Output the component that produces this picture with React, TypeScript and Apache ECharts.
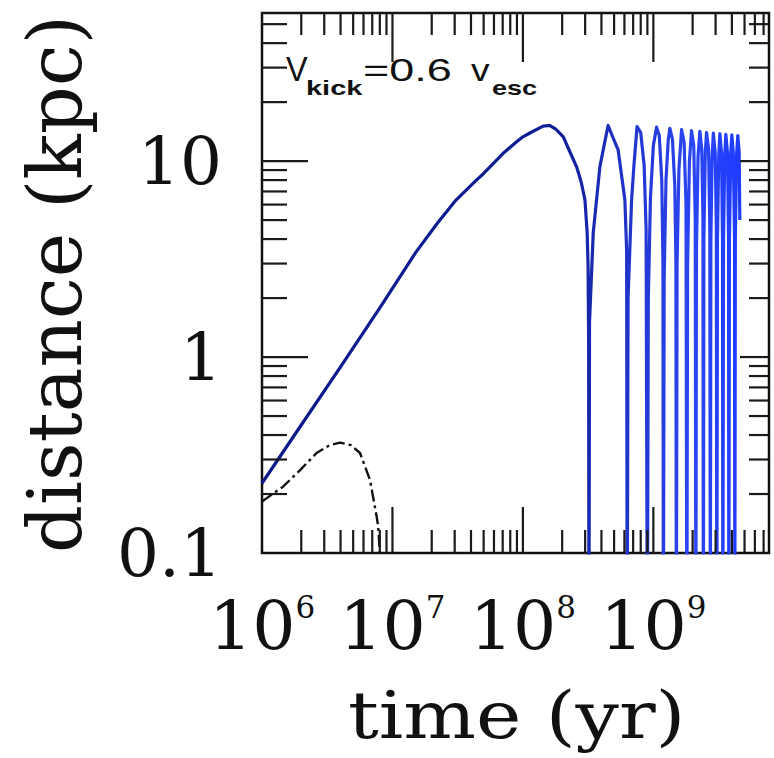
import React, { useEffect, useRef } from 'react';
import * as echarts from 'echarts';

// Axis ranges
const X_MIN = 1e6;
const X_MAX = 7.7e9;
const Y_MIN = 0.1;
const Y_MAX = 57;

// Tick values
const xMinorTicks = [
  2e6, 3e6, 4e6, 5e6, 6e6, 7e6, 8e6, 9e6,
  2e7, 3e7, 4e7, 5e7, 6e7, 7e7, 8e7, 9e7,
  2e8, 3e8, 4e8, 5e8, 6e8, 7e8, 8e8, 9e8,
  2e9, 3e9, 4e9, 5e9, 6e9, 7e9,
];
const xMajorTicks = [1e7, 1e8, 1e9];
const yMinorTicks = [0.2, 0.3, 0.4, 0.5, 0.6, 0.7, 0.8, 0.9, 2, 3, 4, 5, 6, 7, 8, 9, 20, 30, 40, 50];
const yMajorTicks = [1, 10];

// Blue curve: time (yr) and distance (kpc)
const blueTime = [
  1.0e6, 2.0e6, 4.0e6, 8.0e6, 1.5e7, 2.2e7, 3.07e7, 4.4e7, 5.0e7, 7.0e7, 9.0e7, 1.0e8, 1.15e8, 1.3e8, 1.43e8, 1.6e8,
  1.8e8, 2.04e8, 2.3e8, 2.58e8, 2.8e8, 2.99e8, 3.11e8, 3.16e8, 3.19e8, 3.21e8,
  3.24e8, 3.46e8, 3.89e8, 4.2e8, 4.5e8,
  4.9e8, 5.37e8, 5.75e8, 6.05e8, 6.24e8, 6.3e8,
  6.4e8, 6.81e8, 7.1e8, 7.5e8,
  8.0e8, 8.5e8, 8.8e8, 8.99e8,
  9.15e8, 9.5e8, 1.0e9, 1.058e9,
  1.11e9, 1.16e9, 1.185e9, 1.193e9,
  1.21e9, 1.25e9, 1.3e9, 1.338e9,
  1.4e9, 1.46e9, 1.49e9, 1.5e9,
  1.52e9, 1.57e9, 1.645e9,
  1.72e9, 1.78e9, 1.806e9,
  1.83e9, 1.89e9, 1.962e9,
  2.04e9, 2.095e9, 2.117e9,
  2.14e9, 2.2e9, 2.272e9,
  2.35e9, 2.4e9, 2.416e9,
  2.44e9, 2.5e9, 2.557e9,
  2.65e9, 2.71e9, 2.734e9,
  2.76e9, 2.82e9, 2.883e9,
  2.98e9, 3.04e9, 3.066e9,
  3.1e9, 3.17e9, 3.233e9,
  3.33e9, 3.39e9, 3.409e9,
  3.45e9, 3.53e9, 3.594e9,
  3.7e9, 3.77e9, 3.789e9,
  3.83e9, 3.92e9, 3.995e9,
  4.1e9, 4.19e9, 4.212e9,
  4.25e9, 4.35e9, 4.441e9,
  4.55e9, 4.6e9,
];
const blueDist = [
  0.227, 0.45, 0.89, 1.78, 3.4, 4.8, 6.33, 8.0, 8.65, 10.9, 12.6, 13.3, 14.0, 14.6, 15.1, 15.2,
  14.5, 13.3, 11.1, 9.35, 7.8, 6.33, 4.3, 2.9, 1.2, 0.03,
  1.5, 4.3, 9.35, 12.1, 15.2,
  13.2, 11.4, 8.15, 6.33, 3.5, 0.03,
  2.0, 6.33, 9.55, 15.0,
  14.0, 9.5, 4.5, 0.03,
  2.0, 6.5, 12.0, 14.9,
  13.5, 8.0, 3.0, 0.03,
  2.5, 8.0, 12.8, 14.7,
  13.0, 7.5, 3.0, 0.03,
  3.0, 9.0, 14.5,
  12.5, 6.0, 0.03,
  3.0, 10.0, 14.3,
  12.0, 5.0, 0.03,
  3.5, 10.5, 14.2,
  11.5, 5.0, 0.03,
  4.0, 11.0, 14.0,
  11.5, 4.5, 0.03,
  4.0, 10.5, 13.9,
  11.0, 4.5, 0.03,
  4.0, 10.5, 13.8,
  11.0, 4.0, 0.03,
  4.0, 11.0, 13.7,
  11.0, 4.0, 0.03,
  4.0, 11.0, 13.6,
  11.0, 4.0, 0.03,
  4.0, 11.0, 13.5,
  11.0, 5.0,
];

// Black dash-dot curve
const blackTime = [1.0e6, 1.45e6, 1.96e6, 2.62e6, 3.3e6, 3.96e6, 4.8e6, 5.64e6, 6.73e6, 7.57e6, 7.78e6, 8.0e6, 8.1e6];
const blackDist = [0.183, 0.218, 0.265, 0.324, 0.355, 0.366, 0.355, 0.324, 0.236, 0.153, 0.136, 0.1, 0.08];

const SERIF = 'DejaVu Serif';
const SANS = 'Liberation Sans';

function powLabel(v: number): number | null {
  const l = Math.log10(v);
  const e = Math.round(l);
  if (Math.abs(l - e) > 1e-6) return null;
  return e;
}

function textEl(text: string, x: number, y: number, font: any, extra: any = {}) {
  return {
    type: 'text', x, y, silent: true, z: 10, ...extra,
    style: {
      text, fill: '#111', ...font,
      align: font.align || 'left', verticalAlign: 'middle',
      textAlign: font.align || 'left', textVerticalAlign: 'middle',
    },
  };
}

export default function App() {
  const ref = useRef<HTMLDivElement>(null);
  useEffect(() => {
    const chart = echarts.init(ref.current!, null, { renderer: 'svg' });
    const texts = [
      textEl('distance (kpc)', 54.5, 284, { fontFamily: SERIF, fontSize: 75, align: 'center' }, { rotation: Math.PI / 2 }),
      textEl('time (yr)', 516.7, 715.5, { fontFamily: SERIF, fontSize: 65, align: 'center' }, { scaleX: 1.18 }),
      textEl('V', 286, 68, { fontFamily: SANS, fontSize: 36 }, { scaleX: 0.9 }),
      textEl('kick', 306, 88, { fontFamily: SANS, fontWeight: 'bold', fontSize: 20 }, { scaleX: 1.45 }),
      textEl('=0.6', 363, 70.5, { fontFamily: SANS, fontSize: 31 }, { scaleX: 1.45 }),
      textEl('v', 471, 70.5, { fontFamily: SANS, fontSize: 31 }, { scaleX: 1.2 }),
      textEl('esc', 492, 88, { fontFamily: SANS, fontWeight: 'bold', fontSize: 20 }, { scaleX: 1.35 }),
    ];
    const option: any = {
      animation: false,
      backgroundColor: '#fff',
      grid: {
        left: 262, top: 13, right: 5, bottom: 205,
        show: true, borderColor: '#111', borderWidth: 2.5, backgroundColor: 'transparent',
      },
      xAxis: {
        type: 'log', logBase: 10, min: X_MIN, max: X_MAX,
        axisLine: { show: false }, axisTick: { show: false }, splitLine: { show: false },
        axisLabel: {
          margin: 38,
          formatter: (v: number) => {
            const e = powLabel(v);
            if (e === null) return '';
            return `{b|10}{s|${e}}`;
          },
          rich: {
            b: { fontFamily: SERIF, fontSize: 68, lineHeight: 68, color: '#111' },
            s: { fontFamily: SERIF, fontSize: 31, lineHeight: 34, color: '#111', verticalAlign: 'top' },
          },
        },
      },
      yAxis: {
        type: 'log', logBase: 10, min: Y_MIN, max: Y_MAX,
        axisLine: { show: false }, axisTick: { show: false }, splitLine: { show: false },
        axisLabel: {
          margin: 40,
          fontFamily: SERIF, fontSize: 66, color: '#111',
          formatter: (v: number) => {
            const e = powLabel(v);
            if (e === null) return '';
            return e < 0 ? '0.1' : String(Math.pow(10, e));
          },
        },
      },
      graphic: texts,
      series: [
        {
          type: 'line', name: 'orbit', showSymbol: false, clip: true, smooth: false,
          data: blueTime.map((t, i) => [t, blueDist[i]]),
          lineStyle: {
            width: 3.2,
            join: 'round',
            color: new echarts.graphic.LinearGradient(0, 0, 1, 0, [
              { offset: 0, color: '#0b198a' },
              { offset: 0.62, color: '#0f1e96' },
              { offset: 0.78, color: '#2236d0' },
              { offset: 0.9, color: '#2b46f2' },
              { offset: 1, color: '#1f3cff' },
            ]),
          },
          z: 2,
        },
        {
          type: 'line', name: 'core', showSymbol: false, clip: true, smooth: false,
          data: blackTime.map((t, i) => [t, blackDist[i]]),
          lineStyle: { width: 2.4, color: '#111', type: [12, 4, 3, 4] },
          z: 3,
        },
      ],
    };
    chart.setOption(option);

    // Ticks placed through the chart's own scales
    const px = (v: number[]) => chart.convertToPixel({ gridIndex: 0 }, v) as number[];
    const ticks: any[] = [];
    const line = (x1: number, y1: number, x2: number, y2: number) => ({
      type: 'line', silent: true, z: 8, shape: { x1, y1, x2, y2 }, style: { stroke: '#1a1a1a', lineWidth: 2.2 },
    });
    const addX = (vals: number[], lb: number, lt: number) => vals.forEach((t) => {
      const b = px([t, Y_MIN]);
      const tp = px([t, Y_MAX]);
      ticks.push(line(b[0], b[1], b[0], b[1] - lb));
      ticks.push(line(tp[0], tp[1], tp[0], tp[1] + lt));
    });
    const addY = (vals: number[], ll: number, lr: number) => vals.forEach((d) => {
      const l = px([X_MIN, d]);
      const r = px([X_MAX, d]);
      ticks.push(line(l[0], l[1], l[0] + ll, l[1]));
      ticks.push(line(r[0], r[1], r[0] - lr, r[1]));
    });
    addX(xMinorTicks, 23, 22);
    addX(xMajorTicks, 46, 49);
    addY(yMinorTicks, 25, 20);
    addY(yMajorTicks, 46, 29);
    chart.setOption({ graphic: [...texts, ...ticks] });

    return () => chart.dispose();
  }, []);
  return (
    <div
      ref={ref}
      style={{ position: 'fixed', left: 0, top: 0, width: 774, height: 758, background: '#fff' }}
    />
  );
}
